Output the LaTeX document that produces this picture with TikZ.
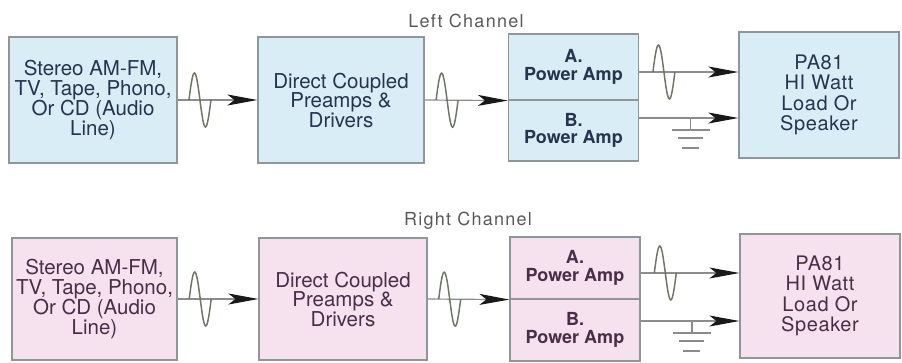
\documentclass[tikz,border=0pt]{standalone}
\usepackage{fontspec}
\setmainfont{TeX Gyre Heros}
\usetikzlibrary{arrows.meta,calc}
\definecolor{boxblue}{HTML}{D8EDF5}
\definecolor{boxpink}{HTML}{F5E2EE}
\definecolor{inkblue}{HTML}{26344F}
\definecolor{inkpink}{HTML}{4A2E48}
\definecolor{boxedge}{HTML}{8E9699}
\definecolor{wire}{HTML}{8C8C8C}
\definecolor{wavecol}{HTML}{6F7866}
\tikzset{
  blk/.style={draw=boxedge, line width=1.2pt, align=center, inner sep=0pt, font=\fontsize{20.5}{19.5}\selectfont},
  ampblk/.style={blk, minimum width=130pt, font=\fontsize{18}{17.5}\selectfont\bfseries},
  spkblk/.style={blk, minimum width=160pt, font=\fontsize{20}{20.5}\selectfont\addfontfeatures{LetterSpace=3}},
  lbl/.style={text=black!65, font=\fontsize{18}{18}\selectfont\addfontfeatures{LetterSpace=7}},
  sig/.style={draw=wire, line width=1.2pt},
  arr/.style={sig, -{Stealth[length=30pt, width=11pt, inset=7pt, color=black!90]}},
  sinewave/.pic={\draw[draw=wavecol, line width=1.5pt] (-11,0) sin (-5.5,-27) cos (0,0) sin (5.5,27) cos (11,0);},
  gnd/.pic={\draw[sig] (0,0) -- (0,12) (-19,12) -- (19,12) (-12.5,20) -- (12.5,20) (-8.5,30) -- (8.5,30);}
}
\begin{document}
\begin{tikzpicture}[x=1pt, y=-1pt]
\useasboundingbox (0,0) rectangle (902,362);
\node[lbl] (leftlab) at (466,21) {Left Channel};
\node[blk, fill=boxblue, text=inkblue, minimum width=168pt, minimum height=126pt] (srcL) at (93,100) {Stereo AM-FM,\\TV, Tape, Phono,\\Or CD (Audio\\Line)};
\node[blk, fill=boxblue, text=inkblue, minimum width=166pt, minimum height=126pt] (preL) at (341,100) {Direct Coupled\\Preamps \&\\Drivers};
\node[ampblk, fill=boxblue, text=inkblue, minimum height=66pt] (ampAL) at (573.5,67) {A.\\Power Amp};
\node[ampblk, fill=boxblue, text=inkblue, minimum height=61pt] (ampBL) at (573.5,130.5) {B.\\Power Amp};
\node[spkblk, fill=boxblue, text=inkblue, minimum height=126pt] (spkL) at (819,95) {PA81\\HI Watt\\Load Or\\Speaker};
\draw[arr] (srcL.east) -- (preL.west);
\pic at ($(srcL.east)!0.28!(preL.west)$) {sinewave};
\draw[arr] (preL.east) -- (ampAL.south west);
\pic at ($(preL.east)!0.27!(ampAL.south west)$) {sinewave};
\coordinate (inAL) at ($(spkL.west)+(0,-23)$);
\coordinate (inBL) at ($(spkL.west)+(0,23)$);
\draw[arr] (inAL -| ampAL.east) -- (inAL);
\pic at ($(inAL -| ampAL.east)!0.25!(inAL)$) {sinewave};
\draw[arr] (inBL -| ampBL.east) -- (inBL);
\pic at ($(inBL -| ampBL.east)!0.52!(inBL)$) {gnd};
\node[lbl] (rightlab) at (468,221) {Right Channel};
\node[blk, fill=boxpink, text=inkpink, minimum width=165pt, minimum height=122pt] (srcR) at (94.5,299) {Stereo AM-FM,\\TV, Tape, Phono,\\Or CD (Audio\\Line)};
\node[blk, fill=boxpink, text=inkpink, minimum width=168pt, minimum height=122pt] (preR) at (343,299) {Direct Coupled\\Preamps \&\\Drivers};
\node[ampblk, fill=boxpink, text=inkpink, minimum height=62pt] (ampAR) at (575,268) {A.\\Power Amp};
\node[ampblk, fill=boxpink, text=inkpink, minimum height=62pt] (ampBR) at (575,330) {B.\\Power Amp};
\node[spkblk, fill=boxpink, text=inkpink, minimum height=124pt] (spkR) at (820,296) {PA81\\HI Watt\\Load Or\\Speaker};
\draw[arr] (srcR.east) -- (preR.west);
\pic at ($(srcR.east)!0.28!(preR.west)$) {sinewave};
\draw[arr] (preR.east) -- (ampAR.south west);
\pic at ($(preR.east)!0.27!(ampAR.south west)$) {sinewave};
\coordinate (inAR) at ($(spkR.west)+(0,-23)$);
\coordinate (inBR) at ($(spkR.west)+(0,25)$);
\draw[arr] (inAR -| ampAR.east) -- (inAR);
\pic at ($(inAR -| ampAR.east)!0.25!(inAR)$) {sinewave};
\draw[arr] (inBR -| ampBR.east) -- (inBR);
\pic at ($(inBR -| ampBR.east)!0.52!(inBR)$) {gnd};
\end{tikzpicture}
\end{document}
